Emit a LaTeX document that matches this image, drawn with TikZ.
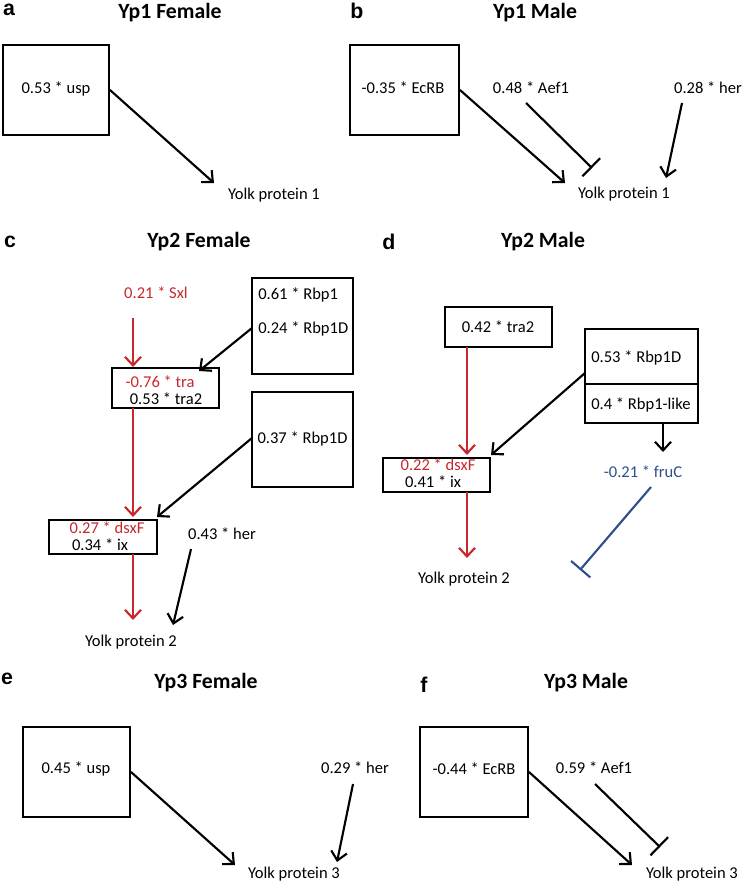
\documentclass[tikz,border=0pt]{standalone}
\usepackage{fontspec}
\setmainfont{Carlito}
\newfontfamily\letterfont{Liberation Sans}
\usetikzlibrary{arrows.meta}
\definecolor{myred}{RGB}{200,40,45}
\definecolor{myblue}{RGB}{45,80,140}
\def\px{0.75pt}
\begin{document}
\begin{tikzpicture}[x=0.75pt,y=-0.75pt,
  lbl/.style={font=\fontsize{12.4}{14}\selectfont, inner sep=0, anchor=base},
  ttl/.style={font=\bfseries\fontsize{16.3}{19}\selectfont, inner sep=0, anchor=base},
  pl/.style={font=\letterfont\bfseries\fontsize{16}{19}\selectfont, inner sep=0, anchor=base},
  box/.style={draw, line width=1.5pt, inner sep=0},
  act/.style={line width=1.6pt, -{Straight Barb[length=6.5pt,width=12pt]}},
  inh/.style={line width=1.6pt, -{Bar[width=19pt]}},
  redc/.style={myred},
]
\useasboundingbox (0,0) rectangle (746,885);

% ---------------- panel a
\node[pl] (la) at (9,15) {a};
\node[ttl] (ta) at (170,18) {Yp1 Female};
\node[box, minimum width=106*\px, minimum height=90*\px] (a-box) at (56,90) {};
\node[lbl] (a-usp) at (56,93) {0.53 * usp};
\node[lbl] (a-yp) at (274,199) {Yolk protein 1};
\coordinate (a-end) at (214,183);
\draw[act] (a-box.east) -- (a-end);

% ---------------- panel b
\node[pl] (lb) at (357,18) {b};
\node[ttl] (tb) at (535,18) {Yp1 Male};
\node[box, minimum width=109*\px, minimum height=90*\px] (b-box) at (404.5,90) {};
\node[lbl] (b-ecr) at (403,93) {-0.35 * EcRB};
\node[lbl] (b-aef) at (531,93) {0.48 * Aef1};
\node[lbl] (b-her) at (708,93) {0.28 * her};
\node[lbl] (b-yp) at (624,198) {Yolk protein 1};
\coordinate (b-e1) at (565,183);
\coordinate (b-s2) at (526,103);
\coordinate (b-e2) at (592,168);
\coordinate (b-s3) at (682,103);
\coordinate (b-e3) at (666,178);
\draw[act] (b-box.east) -- (b-e1);
\draw[inh] (b-s2) -- (b-e2);
\draw[act] (b-s3) -- (b-e3);

% ---------------- panel c
\node[pl] (lc) at (10,247) {c};
\node[ttl] (tc) at (199,247) {Yp2 Female};
\node[lbl, redc] (c-sxl) at (156,298) {0.21 * Sxl};
\node[box, minimum width=101*\px, minimum height=96*\px] (c-rbp1) at (302.5,326) {};
\node[lbl, anchor=base west] (c-r1) at (258,299) {0.61 * Rbp1};
\node[lbl, anchor=base west] (c-r2) at (258,333) {0.24 * Rbp1D};
\node[box, minimum width=107*\px, minimum height=40*\px] (c-tra) at (165.5,388) {};
\node[lbl, redc] (c-tra1) at (160,387) {-0.76 * tra};
\node[lbl] (c-tra2) at (166,404) {0.53 * tra2};
\node[box, minimum width=101*\px, minimum height=95*\px] (c-rbp1d) at (302.5,439.5) {};
\node[lbl] (c-r3) at (302.5,443) {0.37 * Rbp1D};
\node[box, minimum width=108*\px, minimum height=34*\px] (c-dsx) at (103,537) {};
\node[lbl, redc] (c-dsx1) at (107,533) {0.27 * dsxF};
\node[lbl] (c-dsx2) at (100,550) {0.34 * ix};
\node[lbl] (c-her) at (222,539) {0.43 * her};
\node[lbl] (c-yp) at (131,646) {Yolk protein 2};
\coordinate (c-s1) at (133,318);
\coordinate (c-e1) at (133,367);
\coordinate (c-s2) at (252,328);
\coordinate (c-e2) at (199,371);
\coordinate (c-s3) at (133,408);
\coordinate (c-e3) at (133,517);
\coordinate (c-s4) at (252,438);
\coordinate (c-e4) at (157,517);
\coordinate (c-s5) at (191,549);
\coordinate (c-e5) at (173,625);
\coordinate (c-s6) at (133,554);
\coordinate (c-e6) at (133,620);
\draw[act, myred] (c-s1) -- (c-e1);
\draw[act] (c-s2) -- (c-e2);
\draw[act, myred] (c-s3) -- (c-e3);
\draw[act] (c-s4) -- (c-e4);
\draw[act] (c-s5) -- (c-e5);
\draw[act, myred] (c-s6) -- (c-e6);

% ---------------- panel d
\node[pl] (ld) at (389,249) {d};
\node[ttl] (td) at (543,247) {Yp2 Male};
\node[box, minimum width=107*\px, minimum height=40*\px] (d-tra) at (498.5,327) {};
\node[lbl] (d-tra2) at (498,332) {0.42 * tra2};
\node[box, minimum width=113*\px, minimum height=55*\px] (d-rb1) at (641.5,356.5) {};
\node[box, minimum width=113*\px, minimum height=39*\px] (d-rb2) at (641.5,403.5) {};
\node[lbl, anchor=base west] (d-r1) at (591,362) {0.53 * Rbp1D};
\node[lbl, anchor=base west] (d-r2) at (591,409) {0.4 * Rbp1-like};
\node[box, minimum width=107*\px, minimum height=34*\px] (d-dsx) at (436.5,475) {};
\node[lbl, redc] (d-dsx1) at (438,470) {0.22 * dsxF};
\node[lbl] (d-dsx2) at (433,487) {0.41 * ix};
\node[lbl, myblue] (d-fru) at (643,477) {-0.21 * fruC};
\node[lbl] (d-yp) at (464,583) {Yolk protein 2};
\coordinate (d-s1) at (467,347);
\coordinate (d-e1) at (467,455);
\coordinate (d-s2) at (585,373);
\coordinate (d-e2) at (491,455);
\coordinate (d-s3) at (663,423);
\coordinate (d-e3) at (663,452);
\coordinate (d-s4) at (651,487);
\coordinate (d-e4) at (580,570);
\coordinate (d-s5) at (467,492);
\coordinate (d-e5) at (467,558);
\draw[act, myred] (d-s1) -- (d-e1);
\draw[act] (d-s2) -- (d-e2);
\draw[act] (d-s3) -- (d-e3);
\draw[inh, myblue] (d-s4) -- (d-e4);
\draw[act, myred] (d-s5) -- (d-e5);

% ---------------- panel e
\node[pl] (le) at (7,684) {e};
\node[ttl] (te) at (206,688) {Yp3 Female};
\node[box, minimum width=107*\px, minimum height=90*\px] (e-box) at (76.5,772) {};
\node[lbl] (e-usp) at (76,773) {0.45 * usp};
\node[lbl] (e-her) at (355,773) {0.29 * her};
\node[lbl] (e-yp) at (294,878) {Yolk protein 3};
\coordinate (e-e1) at (235,865);
\coordinate (e-s2) at (353,784);
\coordinate (e-e2) at (337,862);
\draw[act] (e-box.east) -- (e-e1);
\draw[act] (e-s2) -- (e-e2);

% ---------------- panel f
\node[pl] (lf) at (424,692) {f};
\node[ttl] (tf) at (586,688) {Yp3 Male};
\node[box, minimum width=108*\px, minimum height=90*\px] (f-box) at (474,772) {};
\node[lbl] (f-ecr) at (474,774) {-0.44 * EcRB};
\node[lbl] (f-aef) at (594,773) {0.59 * Aef1};
\node[lbl] (f-yp) at (692,878) {Yolk protein 3};
\coordinate (f-e1) at (632,865);
\coordinate (f-s2) at (595,784);
\coordinate (f-e2) at (660,847);
\draw[act] (f-box.east) -- (f-e1);
\draw[inh] (f-s2) -- (f-e2);
\end{tikzpicture}
\end{document}
